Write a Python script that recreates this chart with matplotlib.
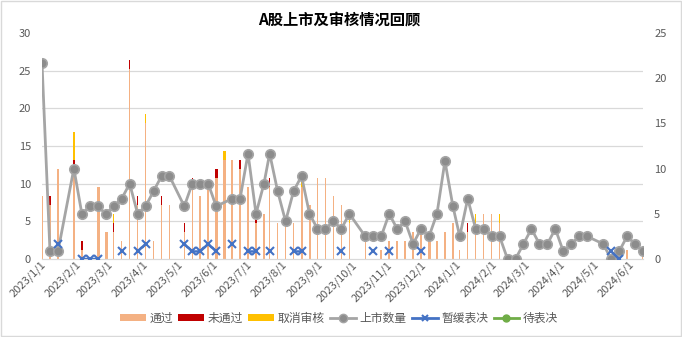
import numpy as np
import pandas as pd
import matplotlib
matplotlib.use("Agg")
import matplotlib.pyplot as plt
import matplotlib.dates as mdates
from matplotlib.patches import Patch, Rectangle
from matplotlib.lines import Line2D
from matplotlib.ticker import FuncFormatter

plt.rcParams['font.family'] = ['Noto Sans CJK SC', 'DejaVu Sans']

# weekly listing counts (left axis) and deferred votes
week_dates = ["2022-12-30", "2023-01-06", "2023-01-13", "2023-01-27", "2023-02-03",
              "2023-02-10", "2023-02-17", "2023-02-24", "2023-03-03", "2023-03-10",
              "2023-03-17", "2023-03-24", "2023-03-31", "2023-04-07", "2023-04-14",
              "2023-04-21", "2023-05-04", "2023-05-11", "2023-05-18", "2023-05-25",
              "2023-06-01", "2023-06-15", "2023-06-22", "2023-06-29", "2023-07-06",
              "2023-07-13", "2023-07-18", "2023-07-25", "2023-08-01", "2023-08-08",
              "2023-08-15", "2023-08-22", "2023-08-29", "2023-09-05", "2023-09-12",
              "2023-09-19", "2023-09-26", "2023-10-10", "2023-10-17", "2023-10-24",
              "2023-10-31", "2023-11-07", "2023-11-14", "2023-11-21", "2023-11-28",
              "2023-12-05", "2023-12-12", "2023-12-19", "2023-12-26", "2024-01-01",
              "2024-01-08", "2024-01-15", "2024-01-22", "2024-01-29", "2024-02-05",
              "2024-02-12", "2024-02-19", "2024-02-26", "2024-03-04", "2024-03-11",
              "2024-03-18", "2024-03-25", "2024-04-01", "2024-04-08", "2024-04-15",
              "2024-04-22", "2024-05-06", "2024-05-13", "2024-05-20", "2024-05-27",
              "2024-06-03", "2024-06-10"]
listed = [26, 1, 1, 12, 6, 7, 7, 6, 7, 8,
          10, 6, 7, 9, 11, 11, 7, 10, 10, 10,
          7, 8, 8, 14, 6, 10, 14, 9, 5, 9,
          11, 6, 4, 4, 5, 4, 6, 3, 3, 3,
          6, 4, 5, 2, 4, 3, 6, 13, 7, 3,
          8, 4, 4, 3, 3, 0, 0, 2, 4, 2,
          2, 4, 1, 2, 3, 3, 2, 0, 1, 3,
          2, 1]
N = None
deferred = [N, N, 2, N, 0, 0, 0, N, N, 1,
            N, 1, 2, N, N, N, 2, 1, 1, 2,
            1, 2, N, 1, 1, N, 1, N, N, 1,
            1, N, N, N, N, 1, N, N, 1, N,
            1, N, N, N, 1, N, N, N, N, N,
            N, N, N, N, N, N, N, N, N, N,
            N, N, N, N, N, N, N, 1, 0, N,
            N, N]
pending_dates = []
pending = []

# review meetings (right axis)
review_dates = ["2022-12-30", "2023-01-06", "2023-01-13", "2023-01-27", "2023-02-03",
                "2023-02-17", "2023-02-18", "2023-02-24", "2023-02-25", "2023-03-03",
                "2023-03-10", "2023-03-17", "2023-03-24", "2023-03-31", "2023-04-07",
                "2023-04-14", "2023-04-21", "2023-05-04", "2023-05-11", "2023-05-18",
                "2023-05-25", "2023-06-01", "2023-06-02", "2023-06-08", "2023-06-09",
                "2023-06-15", "2023-06-22", "2023-06-29", "2023-07-06", "2023-07-13",
                "2023-07-18", "2023-07-25", "2023-08-01", "2023-08-08", "2023-08-15",
                "2023-08-16", "2023-08-22", "2023-08-23", "2023-08-29", "2023-09-05",
                "2023-09-12", "2023-09-19", "2023-09-26", "2023-10-10", "2023-10-24",
                "2023-10-31", "2023-11-07", "2023-11-14", "2023-11-21", "2023-11-28",
                "2023-12-05", "2023-12-06", "2023-12-12", "2023-12-19", "2023-12-26",
                "2024-01-01", "2024-01-08", "2024-01-15", "2024-01-22", "2024-01-29",
                "2024-02-05", "2024-05-27", "2024-06-10"]
passed = [7, 6, 10, 10, 1, 8, 8, 3, 3, 3,
          2, 21, 6, 15, 2, 6, 6, 3, 8, 7,
          8, 9, 9, 11, 11, 11, 10, 8, 4, 5,
          8, 4, 4, 4, 8, 8, 6, 6, 9, 9,
          7, 6, 4, 2, 1, 2, 2, 2, 3, 3,
          2, 2, 2, 3, 4, 1, 3, 4, 5, 5,
          4, 1, 1]
failed = [0, 1, 0, 1, 1, 0, 0, 0, 0, 1,
          0, 1, 1, 0, 0, 1, 0, 1, 1, 0,
          0, 1, 1, 0, 0, 0, 1, 0, 1, 0,
          1, 0, 0, 0, 0, 0, 0, 0, 0, 0,
          0, 0, 0, 0, 0, 0, 0, 0, 0, 0,
          0, 0, 0, 0, 0, 0, 1, 0, 0, 0,
          0, 0, 0]
cancelled = [0, 0, 0, 3, 0, 0, 0, 0, 0, 1,
             0, 0, 0, 1, 0, 0, 0, 0, 0, 0,
             0, 0, 0, 1, 1, 0, 0, 0, 0, 0,
             0, 0, 0, 0, 1, 1, 0, 0, 0, 0,
             0, 0, 1, 0, 0, 0, 0, 0, 0, 0,
             1, 1, 0, 0, 0, 0, 0, 1, 0, 0,
             1, 0, 0]

C_PASS, C_FAIL, C_CANCEL = '#F4B183', '#C00000', '#FFC000'
C_LIST, C_DEFER, C_PEND = '#A5A5A5', '#4472C4', '#70AD47'
TXT = '#595959'
GRID = '#D9D9D9'

wd = pd.to_datetime(week_dates)
rd = pd.to_datetime(review_dates)
passed = np.array(passed)
failed = np.array(failed)
cancelled = np.array(cancelled)

# deferred votes on the union of all dates, so blank rows break the line
defer_s = pd.Series([np.nan if v is None else v for v in deferred], index=wd, dtype=float)
defer_s = defer_s.reindex(wd.union(rd))

fig = plt.figure(figsize=(6.82, 3.37), dpi=100)
ax = fig.add_axes([0.0616, 0.2315, 0.8812, 0.6706])
ax2 = ax.twinx()

bw = 1.3
ax.bar(rd, passed, width=bw, color=C_PASS, linewidth=0, antialiased=False)
ax.bar(rd, failed, width=bw, bottom=passed, color=C_FAIL, linewidth=0, antialiased=False)
ax.bar(rd, cancelled, width=bw, bottom=passed + failed, color=C_CANCEL,
       linewidth=0, antialiased=False)

ax2.plot(wd, listed, color=C_LIST, lw=2, marker='o', ms=6.8,
         mfc='#8C8C8C', mec=C_LIST, mew=1.2, zorder=3)
ax2.plot(defer_s.index, defer_s.values, color=C_DEFER, lw=1.75, marker='x',
         ms=5.5, mew=1.5, zorder=4)
ax2.plot(pd.to_datetime(pending_dates), pending, color=C_PEND, lw=1.75,
         marker='o', ms=5)

# bars on right scale, lines on left scale
ax.set_ylim(0, 25)
ax.set_yticks(np.arange(0, 26, 5))
ax.set_yticks(np.arange(5, 31, 5) * 25 / 30, minor=True)
ax.grid(which='minor', axis='y', color=GRID, lw=0.9)
ax.set_axisbelow(True)
ax.yaxis.tick_right()
ax.tick_params(axis='y', which='both', length=0, labelcolor=TXT, labelsize=8, pad=8)
ax.tick_params(axis='y', which='minor', labelright=False)

ax2.set_ylim(0, 30)
ax2.set_yticks(np.arange(0, 31, 5))
ax2.yaxis.tick_left()
ax2.tick_params(axis='y', length=0, labelcolor=TXT, labelsize=8, pad=8)

ax.set_xlim(pd.Timestamp("2022-12-30"), pd.Timestamp("2024-06-10"))
ax.xaxis.set_major_locator(mdates.MonthLocator())
ax.xaxis.set_major_formatter(FuncFormatter(
    lambda v, p: "{d.year}/{d.month}/{d.day}".format(d=mdates.num2date(v))))
ax.tick_params(axis='x', length=0, labelcolor=TXT, labelsize=8, pad=3)
for lbl in ax.get_xticklabels():
    lbl.set_rotation(45)
    lbl.set_ha('right')
    lbl.set_va('center')
    lbl.set_rotation_mode('anchor')

for a in (ax, ax2):
    for s in ('top', 'left', 'right'):
        a.spines[s].set_visible(False)
ax2.spines['bottom'].set_visible(False)
ax.spines['bottom'].set_color(GRID)
ax.spines['bottom'].set_linewidth(0.9)

fig.text(0.498, 1 - 20 / 337, 'A股上市及审核情况回顾', ha='center', va='center',
         fontsize=11, fontweight='bold', color='black')

handles = [Patch(facecolor=C_PASS), Patch(facecolor=C_FAIL), Patch(facecolor=C_CANCEL),
           Line2D([], [], color=C_LIST, lw=2, marker='o', ms=6, mfc='#8C8C8C', mec=C_LIST),
           Line2D([], [], color=C_DEFER, lw=2, marker='x', ms=5, mew=1.5),
           Line2D([], [], color=C_PEND, lw=2, marker='o', ms=5)]
labels = ['通过', '未通过', '取消审核', '上市数量', '暂缓表决', '待表决']
fig.legend(handles, labels, loc='center', bbox_to_anchor=(0.497, 1 - 318 / 337),
           ncol=6, frameon=False, fontsize=8.5, labelcolor=TXT, handlelength=2.2,
           handleheight=0.6, handletextpad=0.3, columnspacing=0.45)

fig.patches.append(Rectangle((0.001, 0.002), 0.997, 0.995, transform=fig.transFigure,
                             fill=False, edgecolor=GRID, lw=1))

fig.savefig('out.png', dpi=100)
